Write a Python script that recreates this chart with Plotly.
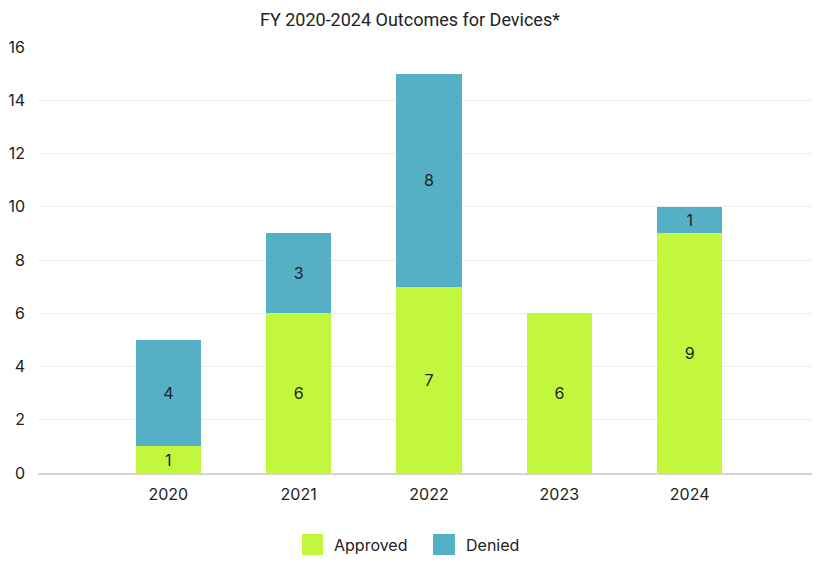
import plotly.graph_objects as go

years = ["2020", "2021", "2022", "2023", "2024"]
approved = [1, 6, 7, 6, 9]
denied = [4, 3, 8, None, 1]
series_names = ["Approved", "Denied"]

green = "#c2f73e"
teal = "#55b0c5"
label_font = dict(color="#222222", size=16, family="Inter")

fig = go.Figure()
fig.add_trace(go.Bar(
    x=years, y=approved, name=series_names[0], showlegend=False,
    marker=dict(color=green, line=dict(width=0)),
    text=approved, textposition="inside", insidetextanchor="middle",
    textfont=label_font, width=0.5,
))
fig.add_trace(go.Bar(
    x=years, y=denied, name=series_names[1], showlegend=False,
    marker=dict(color=teal, line=dict(width=0)),
    text=denied, textposition="inside", insidetextanchor="middle",
    textfont=label_font, width=0.5,
))

# hand-made legend (plotly caps legend swatches smaller than the original)
legend_items = [(series_names[0], green, 0.3376, 0.3645, 0.3765),
                (series_names[1], teal, 0.5051, 0.5332, 0.5445)]
for name, col, x0, x1, tx in legend_items:
    fig.add_shape(type="rect", xref="paper", yref="paper", x0=x0, x1=x1,
                  y0=-0.1925, y1=-0.1432, fillcolor=col, line=dict(width=0))
    fig.add_annotation(text=name, xref="paper", yref="paper", x=tx, y=-0.169,
                       xanchor="left", yanchor="middle", showarrow=False,
                       font=dict(size=16, family="Inter", color="#222222"))

fig.update_layout(
    barmode="stack",
    width=820, height=568,
    margin=dict(l=30, r=8, t=39, b=103, autoexpand=False),
    paper_bgcolor="white", plot_bgcolor="white",
    font=dict(family="Inter", size=16, color="#222222"),
    title=dict(text="FY 2020-2024 Outcomes for Devices*", x=0.4902, xanchor="center",
               y=0.979, yanchor="middle", font=dict(family="Roboto", size=18, color="#222222")),
    uniformtext=dict(minsize=16, mode="show"),
    showlegend=False,
    xaxis=dict(range=[-1, 5], showgrid=False, showline=True, linecolor="#d4d4d4", linewidth=2,
               ticks="", tickfont=dict(size=16), ticklabelstandoff=6, automargin=False),
    yaxis=dict(range=[0, 16], dtick=2, showgrid=True, gridcolor="#ececec", gridwidth=1,
               zeroline=False, ticks="", tickfont=dict(size=16), ticklabelstandoff=12,
               automargin=False),
)
fig.write_html("out.html")
